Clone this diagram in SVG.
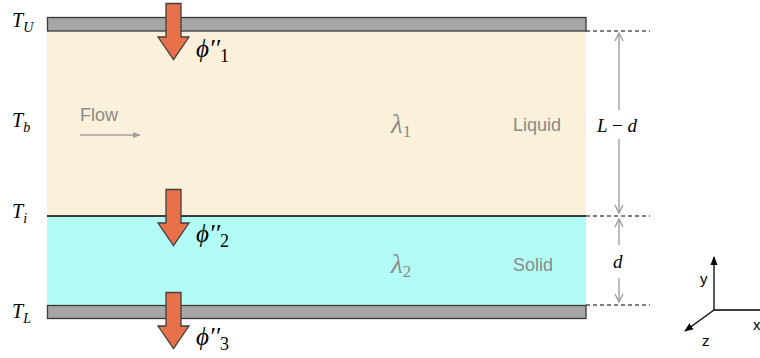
<svg xmlns="http://www.w3.org/2000/svg" width="760" height="358" viewBox="0 0 760 358">
<style>
.math{font-family:"Liberation Serif","DejaVu Serif",serif;font-style:italic;fill:#000}
.up{font-style:normal}
.gray{font-family:"Liberation Sans",Arial,sans-serif;fill:#8a8a8a;font-size:18px}
.lam{font-family:"Liberation Serif","DejaVu Serif",serif;font-style:italic;fill:#8a8a8a;font-size:27px}
.bar{fill:#a6a6a6;stroke:#3a3a3a;stroke-width:1.3}
.dash{stroke:#000;stroke-width:1;stroke-dasharray:4 3;fill:none}
.dim{stroke:#999;stroke-width:1.3;fill:none}
.flux{fill:#e8714a;stroke:#404040;stroke-width:1.3}
.ax{stroke:#000;stroke-width:1.3;fill:none}
.axl{font-family:"Liberation Sans",Arial,sans-serif;font-size:15px;fill:#000}
</style>
<defs>
<marker id="open" viewBox="0 0 10 10" refX="9" refY="5" markerWidth="10" markerHeight="10" markerUnits="userSpaceOnUse" orient="auto-start-reverse">
<path d="M1 1 L9 5 L1 9" fill="none" stroke="#999" stroke-width="1.3"/>
</marker>
<marker id="solid" viewBox="0 0 10 10" refX="9" refY="5" markerWidth="9" markerHeight="9" markerUnits="userSpaceOnUse" orient="auto">
<path d="M0 1 L10 5 L0 9 Z" fill="#000"/>
</marker>
<marker id="flowh" viewBox="0 0 10 10" refX="9" refY="5" markerWidth="8" markerHeight="8" markerUnits="userSpaceOnUse" orient="auto">
<path d="M0 1 L10 5 L0 9 Z" fill="#a0a0a0"/>
</marker>
<path id="fa" d="M-7.5 0 H7.5 V33.5 H15.5 L0 56 L-15.5 33.5 H-7.5 Z"/>
</defs>

<g id="liquid">
<rect x="47" y="31" width="539" height="185" fill="#fbf0da"/>
<text class="lam" x="391" y="133">λ<tspan class="up" font-size="17" dy="4">1</tspan></text>
<text class="gray" x="513" y="131">Liquid</text>
<text class="gray" x="80" y="121" fill="#a0a0a0">Flow</text>
</g>
<g id="solid-layer">
<rect x="47" y="216" width="539" height="89" fill="#b3fcf5"/>
<text class="lam" x="391" y="273">λ<tspan class="up" font-size="17" dy="4">2</tspan></text>
<text class="gray" x="513" y="271">Solid</text>
</g>
<g id="walls">
<rect class="bar" x="47.5" y="17.5" width="538.5" height="13.5"/>
<rect class="bar" x="47.5" y="305.5" width="538.5" height="13"/>
<line x1="47" y1="216" x2="586" y2="216" stroke="#000" stroke-width="1.3"/>
</g>

<g id="connectors">
<line x1="80" y1="135" x2="140" y2="135" stroke="#a0a0a0" stroke-width="1.3" marker-end="url(#flowh)"/>
<line class="dash" x1="586" y1="31" x2="650" y2="31"/>
<line class="dash" x1="586" y1="216" x2="650" y2="216"/>
<line class="dash" x1="586" y1="305" x2="650" y2="305"/>
<line class="dim" x1="619" y1="110" x2="619" y2="33" marker-end="url(#open)"/>
<line class="dim" x1="619" y1="139" x2="619" y2="213" marker-end="url(#open)"/>
<line class="dim" x1="619" y1="245" x2="619" y2="219" marker-end="url(#open)"/>
<line class="dim" x1="619" y1="278" x2="619" y2="302" marker-end="url(#open)"/>
<line class="ax" x1="714" y1="310" x2="714" y2="257" marker-end="url(#solid)"/>
<line class="ax" x1="714" y1="310" x2="770" y2="310"/>
<line class="ax" x1="714" y1="310" x2="685" y2="331" marker-end="url(#solid)"/>
</g>

<g id="flux1"><use href="#fa" class="flux" x="173.5" y="3.5"/>
<text class="math" x="196" y="57" font-size="25">ϕ′′<tspan class="up" font-size="18" dy="5">1</tspan></text></g>
<g id="flux2"><use href="#fa" class="flux" x="173.5" y="189.5"/>
<text class="math" x="196" y="242" font-size="25">ϕ′′<tspan class="up" font-size="18" dy="5">2</tspan></text></g>
<g id="flux3"><use href="#fa" class="flux" x="173.5" y="292.5"/>
<text class="math" x="196" y="345" font-size="25">ϕ′′<tspan class="up" font-size="18" dy="5">3</tspan></text></g>

<g id="labels">
<text class="math" x="12" y="27" font-size="20">T<tspan font-size="14" dy="5">U</tspan></text>
<text class="math" x="12" y="127" font-size="20">T<tspan font-size="14" dy="5">b</tspan></text>
<text class="math" x="12" y="218" font-size="20">T<tspan font-size="14" dy="5">i</tspan></text>
<text class="math" x="12" y="318" font-size="20">T<tspan font-size="14" dy="5">L</tspan></text>
<text class="math" x="597" y="132" font-size="19">L <tspan class="up">−</tspan> d</text>
<text class="math" x="613" y="268" font-size="19">d</text>
</g>
<g id="axes-labels">
<text class="axl" x="700" y="284">y</text>
<text class="axl" x="702" y="346">z</text>
<text class="axl" x="753" y="330">x</text>
</g>
</svg>
